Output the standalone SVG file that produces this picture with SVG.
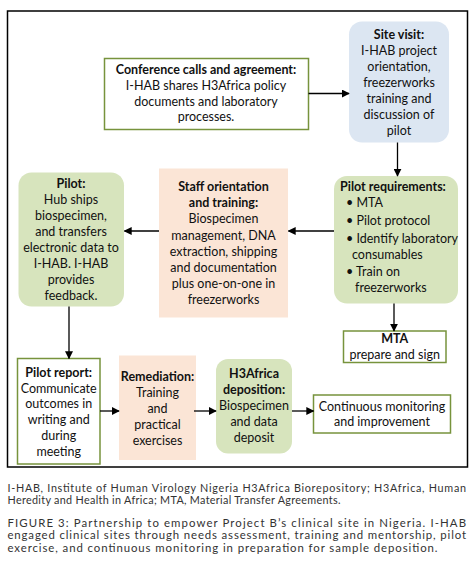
<svg xmlns="http://www.w3.org/2000/svg" width="474" height="570" viewBox="0 0 474 570">
<style>
  .t { font-family: Lato, "Liberation Sans", sans-serif; font-size: 12.5px; fill: #111; text-anchor: middle; }
  .b { font-weight: bold; }
  .tl { text-anchor: start; }
  .gb { fill: #ffffff; stroke: #77933C; stroke-width: 1.5; }
  .gf { fill: #D7E4BD; stroke: none; }
  .bf { fill: #DCE6F2; stroke: none; }
  .pf { fill: #FBE5D6; stroke: none; }
  .c { stroke: #000; stroke-width: 1.3; fill: none; marker-end: url(#ah); }
  .cap { font-family: Lato, "Liberation Sans", sans-serif; fill: #333; }
</style>
<defs>
  <marker id="ah" viewBox="0 0 10 10" refX="9" refY="5" markerWidth="8" markerHeight="8" markerUnits="userSpaceOnUse" orient="auto">
    <path d="M0,0 L10,5 L0,10 z" fill="#000"/>
  </marker>
</defs>
<rect x="0" y="0" width="474" height="570" fill="#fff"/>
<rect x="7.5" y="11" width="460" height="456" fill="none" stroke="#000" stroke-width="1.5"/>

<g id="conference">
  <rect class="gb" x="104.5" y="58.5" width="204" height="71"/>
  <text class="t b" x="206" y="73.5">Conference calls and agreement:</text>
  <text class="t" x="206" y="89.5">I-HAB shares H3Africa policy</text>
  <text class="t" x="206" y="105.5">documents and laboratory</text>
  <text class="t" x="206" y="121">processes.</text>
</g>

<g id="site-visit">
  <rect class="bf" x="349" y="21.5" width="100" height="121" rx="13"/>
  <text class="t b" x="399" y="38.5">Site visit:</text>
  <text class="t" x="399" y="54.5">I-HAB project</text>
  <text class="t" x="399" y="70.5">orientation,</text>
  <text class="t" x="399" y="86.5">freezerworks</text>
  <text class="t" x="399" y="102.5">training and</text>
  <text class="t" x="399" y="118.5">discussion of</text>
  <text class="t" x="399" y="134.5">pilot</text>
</g>

<g id="pilot-requirements">
  <rect class="gf" x="334" y="176" width="124" height="127.5" rx="13"/>
  <text class="t b tl" x="340" y="191">Pilot requirements:</text>
  <text class="t tl" x="346" y="207">• MTA</text>
  <text class="t tl" x="346" y="225">• Pilot protocol</text>
  <text class="t tl" x="346" y="242.5">• Identify laboratory</text>
  <text class="t tl" x="352" y="259">consumables</text>
  <text class="t tl" x="346" y="276">• Train on</text>
  <text class="t tl" x="355" y="292">freezerworks</text>
</g>

<g id="staff">
  <rect class="pf" x="159" y="168.5" width="129" height="149"/>
  <text class="t b" x="223.5" y="191">Staff orientation</text>
  <text class="t b" x="223.5" y="207">and training:</text>
  <text class="t" x="223.5" y="223">Biospecimen</text>
  <text class="t" x="223.5" y="239.5">management, DNA</text>
  <text class="t" x="223.5" y="255.5">extraction, shipping</text>
  <text class="t" x="223.5" y="271.5">and documentation</text>
  <text class="t" x="223.5" y="287.5">plus one-on-one in</text>
  <text class="t" x="223.5" y="303.5">freezerworks</text>
</g>

<g id="pilot">
  <rect class="gf" x="18.5" y="172.5" width="105.5" height="134" rx="13"/>
  <text class="t b" x="71" y="187.5">Pilot:</text>
  <text class="t" x="71" y="203.5">Hub ships</text>
  <text class="t" x="71" y="219.5">biospecimen,</text>
  <text class="t" x="71" y="235.5">and transfers</text>
  <text class="t" x="71" y="251.5">electronic data to</text>
  <text class="t" x="71" y="267.5">I-HAB. I-HAB</text>
  <text class="t" x="71" y="283.5">provides</text>
  <text class="t" x="71" y="299.5">feedback.</text>
</g>

<g id="mta">
  <rect class="gb" x="343.5" y="331" width="102.5" height="31.5"/>
  <text class="t b" x="394.7" y="342.5">MTA</text>
  <text class="t" x="394.7" y="358.5">prepare and sign</text>
</g>

<g id="pilot-report">
  <rect class="gb" x="17.5" y="358.5" width="82.5" height="105.5"/>
  <text class="t b" x="58.7" y="377">Pilot report:</text>
  <text class="t" x="58.7" y="392.7">Communicate</text>
  <text class="t" x="58.7" y="408.4">outcomes in</text>
  <text class="t" x="58.7" y="424.1">writing and</text>
  <text class="t" x="58.7" y="439.8">during</text>
  <text class="t" x="58.7" y="455.5">meeting</text>
</g>

<g id="remediation">
  <rect class="pf" x="119" y="355.5" width="77" height="104.5"/>
  <text class="t b" x="157.5" y="380.5">Remediation:</text>
  <text class="t" x="157.5" y="396.5">Training</text>
  <text class="t" x="157.5" y="412.5">and</text>
  <text class="t" x="157.5" y="428.5">practical</text>
  <text class="t" x="157.5" y="444.5">exercises</text>
</g>

<g id="h3africa">
  <rect class="gf" x="216" y="359" width="76" height="94.5" rx="12"/>
  <text class="t b" x="254" y="377.5">H3Africa</text>
  <text class="t b" x="254" y="394">deposition:</text>
  <text class="t" x="254" y="410">Biospecimen</text>
  <text class="t" x="254" y="426">and data</text>
  <text class="t" x="254" y="441.5">deposit</text>
</g>

<g id="continuous">
  <rect class="gb" x="313.5" y="395" width="137" height="38"/>
  <text class="t" x="382" y="410.5">Continuous monitoring</text>
  <text class="t" x="382" y="426">and improvement</text>
</g>

<g id="connectors">
  <line class="c" x1="308.5" y1="93.5" x2="349" y2="93.5"/>
  <line class="c" x1="397.5" y1="142.5" x2="397.5" y2="176"/>
  <line class="c" x1="334" y1="231" x2="288.5" y2="231"/>
  <line class="c" x1="159" y1="231" x2="124.5" y2="231"/>
  <line class="c" x1="394" y1="303.5" x2="394" y2="331"/>
  <line class="c" x1="69" y1="306.5" x2="69" y2="358.5"/>
  <line class="c" x1="100" y1="411" x2="119" y2="411"/>
  <line class="c" x1="194" y1="411" x2="216" y2="411"/>
  <line class="c" x1="292" y1="411" x2="313.5" y2="411"/>
</g>

<g id="caption">
  <text class="cap" x="7.5" y="492" font-size="10.8" textLength="458.5" lengthAdjust="spacing">I-HAB, Institute of Human Virology Nigeria H3Africa Biorepository; H3Africa, Human</text>
  <text class="cap" x="7.5" y="503.5" font-size="10.8" textLength="333" lengthAdjust="spacing">Heredity and Health in Africa; MTA, Material Transfer Agreements.</text>
  <text class="cap" x="7.5" y="526.5" font-size="11.4" textLength="458.5" lengthAdjust="spacing">FIGURE 3: Partnership to empower Project B’s clinical site in Nigeria. I-HAB</text>
  <text class="cap" x="7.5" y="539.3" font-size="11.4" textLength="458.5" lengthAdjust="spacing">engaged clinical sites through needs assessment, training and mentorship, pilot</text>
  <text class="cap" x="7.5" y="552.1" font-size="11.4" textLength="430" lengthAdjust="spacing">exercise, and continuous monitoring in preparation for sample deposition.</text>
</g>
</svg>
